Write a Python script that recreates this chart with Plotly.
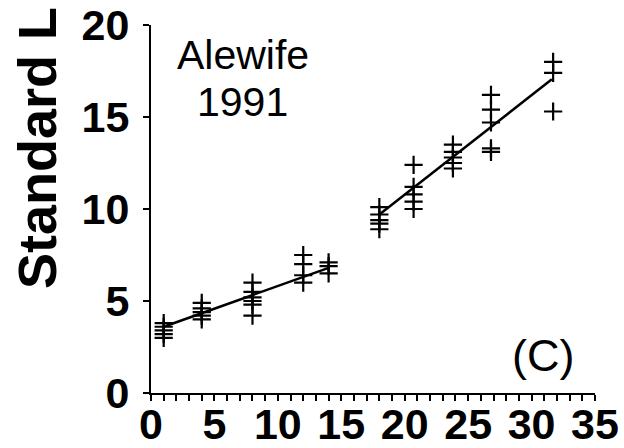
import plotly.graph_objects as go

# Age (days) of each sampled cohort and the standard lengths measured
ages = [1, 4, 8, 12, 14, 18, 20.7, 23.8, 26.8, 31.7]
lengths = [
    [3.8, 3.6, 3.4, 3.2, 3.0],
    [4.9, 4.6, 4.4, 4.2, 4.0],
    [6.0, 5.5, 5.2, 5.0, 4.8, 4.2],
    [7.5, 7.0, 6.4, 6.0],
    [7.1, 6.9, 6.5],
    [10.1, 9.7, 9.4, 9.2, 8.9],
    [12.4, 11.2, 10.8, 10.4, 10.0],
    [13.5, 13.1, 12.8, 12.5, 12.2],
    [16.2, 15.4, 14.7, 13.3, 13.1],
    [18.0, 17.4, 15.3],
]
# Fitted growth lines (two periods)
fit1_x = [1, 14]
fit1_y = [3.6, 6.8]
fit2_x = [18, 31.6]
fit2_y = [9.7, 17.05]

x_ticks = [0, 5, 10, 15, 20, 25, 30, 35]
y_ticks = [0, 5, 10, 15, 20]

px, py = [], []
for a, ls in zip(ages, lengths):
    for v in ls:
        px.append(a)
        py.append(v)

FONT = "Liberation Sans, Arial, Helvetica, sans-serif"
W, H = 624, 448
L, R, T, B = 151, 29, 25, 55
PW, PH = W - L - R, H - T - B


def pxx(x):
    return (x - L) / PW


def pxy(y):
    return (H - B - y) / PH


fig = go.Figure()
fig.add_trace(go.Scatter(x=px, y=py, mode="markers",
                         marker=dict(symbol="cross-thin", size=13,
                                     line=dict(color="black", width=2.2)),
                         showlegend=False, cliponaxis=False))
for fx, fy in [(fit1_x, fit1_y), (fit2_x, fit2_y)]:
    fig.add_trace(go.Scatter(x=fx, y=fy, mode="lines",
                             line=dict(color="black", width=2.5),
                             showlegend=False))

fig.update_layout(
    width=W, height=H,
    margin=dict(l=L, r=R, t=T, b=B, autoexpand=False),
    plot_bgcolor="white", paper_bgcolor="white",
    font=dict(family=FONT, color="black"),
    xaxis=dict(range=[0, 35], tickvals=x_ticks, showgrid=False, zeroline=False,
               automargin=False,
               showline=True, linecolor="black", linewidth=2,
               ticks="outside", ticklen=6, tickwidth=2, tickcolor="black",
               minor=dict(dtick=1, ticks="outside", ticklen=6, tickwidth=1.5,
                          tickcolor="black", showgrid=False),
               tickfont=dict(size=43, family=FONT, weight="bold"), ticklabelstandoff=-14),
    yaxis=dict(range=[0, 20], tickvals=y_ticks, showgrid=False, zeroline=False,
               automargin=False,
               showline=True, linecolor="black", linewidth=2,
               ticks="outside", ticklen=6, tickwidth=2, tickcolor="black",
               tickfont=dict(size=43, family=FONT, weight="bold"), ticklabelstandoff=5),
    annotations=[
        dict(text="Alewife", x=pxx(243), y=pxy(55), xref="paper", yref="paper",
             showarrow=False, font=dict(size=41, family=FONT),
             xanchor="center", yanchor="middle"),
        dict(text="1991", x=pxx(242), y=pxy(102), xref="paper", yref="paper",
             showarrow=False, font=dict(size=41, family=FONT),
             xanchor="center", yanchor="middle"),
        dict(text="(C)", x=pxx(543), y=pxy(355), xref="paper", yref="paper",
             showarrow=False, font=dict(size=45, family=FONT),
             xanchor="center", yanchor="middle"),
        dict(text="Standard L", x=pxx(37), y=pxy(148), xref="paper", yref="paper",
             showarrow=False, textangle=-90,
             font=dict(size=54, family=FONT, weight="bold"),
             xanchor="center", yanchor="middle"),
    ],
)

fig.write_html("out.html")
